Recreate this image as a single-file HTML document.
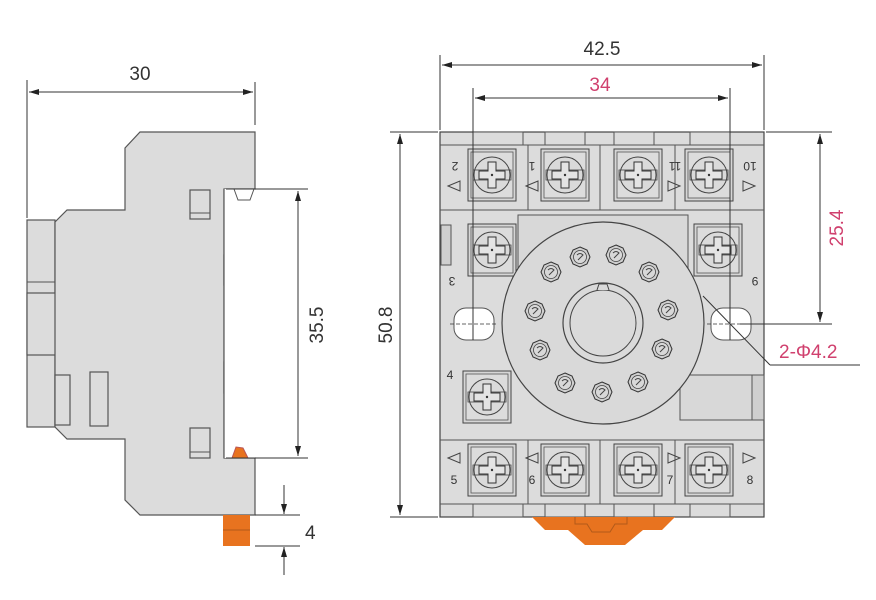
<!DOCTYPE html>
<html><head><meta charset="utf-8"><style>
html,body{margin:0;padding:0;background:#fff;}
svg{display:block;font-family:"Liberation Sans",Arial,sans-serif;}
</style></head><body>
<svg width="876" height="600" viewBox="0 0 876 600" xmlns="http://www.w3.org/2000/svg">
<defs>
<marker id="a" viewBox="0 0 10 6" refX="10" refY="3" markerWidth="10" markerHeight="6" orient="auto-start-reverse" markerUnits="userSpaceOnUse"><path d="M0,0 L10,3 L0,6 Z" fill="#222"/></marker>
<g id="term">
<rect x="-24" y="-26" width="48" height="52" fill="#d6d6d6" stroke="#444" stroke-width="1"/>
<rect x="-21" y="-23" width="42" height="46" fill="#dcdcdc" stroke="#555" stroke-width="0.8"/>
<circle r="18" fill="#dadada" stroke="#444" stroke-width="1"/>
<rect x="-19" y="-5" width="38" height="10" fill="none" stroke="#444" stroke-width="0.8"/>
<path d="M-4,-13 L4,-13 L4,-4 L13,-4 L13,4 L4,4 L4,13 L-4,13 L-4,4 L-13,4 L-13,-4 L-4,-4 Z" fill="#e4e4e4" stroke="#333" stroke-width="1"/>
<circle r="1.2" fill="#333"/>
</g>
<g id="pin">
<polygon points="0,-10 7,-7 10,0 7,7 0,10 -7,7 -10,0 -7,-7" fill="#cfcfcf" stroke="#333" stroke-width="1"/>
<circle r="6.5" fill="#d8d8d8" stroke="#444" stroke-width="0.8"/>
<path d="M-3,-2 Q0,-5 3,-2 Q0,1 -2,3" fill="none" stroke="#444" stroke-width="1"/>
</g>
</defs>

<!-- LEFT SIDE VIEW -->
<g stroke="#555" stroke-width="1.2" fill="#dcdcdc">
<rect x="27" y="220" width="28" height="207"/>
<rect x="27" y="293" width="41" height="62"/>
<path d="M125,148 L140,132 L255,132 L255,189 L224,189 L224,458 L255,458 L255,515 L140,515 L125,500 L125,439 L67,439 L55,427 L55,222 L67,210 L125,210 Z"/>
<rect x="190" y="190" width="20" height="29"/>
<rect x="190" y="428" width="20" height="30"/>
<rect x="224" y="255" width="26" height="30"/>
<rect x="224" y="362" width="26" height="31"/>
<rect x="55" y="375" width="15" height="50"/>
<rect x="90" y="372" width="18" height="54"/>
</g>
<line x1="27" y1="282" x2="55" y2="282" stroke="#555"/>
<line x1="190" y1="213" x2="210" y2="213" stroke="#555"/>
<line x1="190" y1="452" x2="210" y2="452" stroke="#555"/>
<rect x="224" y="189" width="31" height="269" fill="#fff" stroke="none"/>
<line x1="224" y1="189" x2="224" y2="458" stroke="#555" stroke-width="1.2"/>
<path d="M234,189 L238,200 L250,200 L254,189" fill="none" stroke="#555"/>
<path d="M232,458 L236,447 L243,448 L248,458 Z" fill="#e8731f" stroke="#b55"/>
<rect x="223" y="515" width="27" height="31" fill="#e8731f"/>
<line x1="223" y1="530" x2="250" y2="530" stroke="#b25a1a"/>

<g stroke="#333" stroke-width="1" fill="none">
<line x1="27" y1="80" x2="27" y2="218"/>
<line x1="255" y1="82" x2="255" y2="125"/>
<line x1="29" y1="92" x2="253" y2="92" marker-start="url(#a)" marker-end="url(#a)"/>
<line x1="226" y1="189" x2="308" y2="189"/>
<line x1="226" y1="458" x2="308" y2="458"/>
<line x1="298" y1="191" x2="298" y2="456" marker-start="url(#a)" marker-end="url(#a)"/>
<line x1="255" y1="515" x2="300" y2="515"/>
<line x1="255" y1="546" x2="300" y2="546"/>
<line x1="284" y1="485" x2="284" y2="514" marker-end="url(#a)"/>
<line x1="284" y1="575" x2="284" y2="547" marker-end="url(#a)"/>
</g>
<text x="140" y="80" font-size="19" fill="#333" text-anchor="middle">30</text>
<text x="0" y="0" font-size="19" fill="#333" text-anchor="middle" transform="translate(323,325) rotate(-90)">35.5</text>
<text x="305" y="539" font-size="19" fill="#333">4</text>

<!-- RIGHT FRONT VIEW -->
<rect x="440" y="132" width="324" height="385" fill="#dcdcdc" stroke="#444" stroke-width="1.2"/>
<g stroke="#555" fill="#dcdcdc" stroke-width="1">
<rect x="473" y="132" width="50" height="13"/><rect x="545" y="132" width="40" height="13"/><rect x="614" y="132" width="40" height="13"/><rect x="690" y="132" width="40" height="13"/>
<rect x="473" y="504" width="50" height="13"/><rect x="545" y="504" width="40" height="13"/><rect x="614" y="504" width="40" height="13"/><rect x="690" y="504" width="40" height="13"/>
<line x1="440" y1="145" x2="764" y2="145"/>
<line x1="440" y1="210" x2="764" y2="210"/>
<line x1="440" y1="440" x2="764" y2="440"/>
<line x1="440" y1="504" x2="764" y2="504"/>
<line x1="528" y1="145" x2="528" y2="210"/><line x1="600" y1="145" x2="600" y2="210"/><line x1="675" y1="145" x2="675" y2="210"/>
<line x1="528" y1="440" x2="528" y2="504"/><line x1="600" y1="440" x2="600" y2="504"/><line x1="675" y1="440" x2="675" y2="504"/>
<rect x="518" y="215" width="170" height="90" fill="#d8d8d8"/>
<rect x="680" y="375" width="72" height="45" fill="#d8d8d8"/>
<rect x="752" y="375" width="12" height="45" fill="#cfcfcf"/>
<rect x="441" y="225" width="10" height="40" fill="#cfcfcf"/>
</g>
<use href="#term" x="492" y="175"/><use href="#term" x="565" y="175"/><use href="#term" x="638" y="175"/><use href="#term" x="709" y="175"/>
<use href="#term" x="492" y="250"/><use href="#term" x="718" y="250"/>
<use href="#term" x="487" y="397"/>
<use href="#term" x="492" y="470"/><use href="#term" x="565" y="470"/><use href="#term" x="638" y="470"/><use href="#term" x="709" y="470"/>

<circle cx="603" cy="323" r="101" fill="#d9d9d9" stroke="#444" stroke-width="1.2"/>
<circle cx="603" cy="323" r="40" fill="#dadada" stroke="#444" stroke-width="1.2"/>
<circle cx="603" cy="323" r="33" fill="#dadada" stroke="#444" stroke-width="1"/>
<path d="M597,290 L599,284 L607,284 L609,290" fill="#dadada" stroke="#444"/>
<use href="#pin" x="580" y="257"/><use href="#pin" x="616" y="255"/><use href="#pin" x="649" y="272"/>
<use href="#pin" x="668" y="310"/><use href="#pin" x="662" y="349"/><use href="#pin" x="638" y="382"/>
<use href="#pin" x="602" y="392"/><use href="#pin" x="565" y="383"/><use href="#pin" x="540" y="350"/>
<use href="#pin" x="535" y="311"/><use href="#pin" x="551" y="272"/>

<rect x="454" y="308" width="40" height="32" rx="12" fill="#fff" stroke="#555"/>
<rect x="711" y="308" width="40" height="32" rx="12" fill="#fff" stroke="#555"/>
<g stroke="#333" stroke-dasharray="4,2" stroke-width="0.8">
<line x1="450" y1="324" x2="498" y2="324"/><line x1="707" y1="324" x2="755" y2="324"/>
</g>
<g font-size="12" fill="#333" text-anchor="middle">
<text x="455" y="170" transform="rotate(180 455 166)">2</text>
<text x="532" y="170" transform="rotate(180 532 166)">1</text>
<text x="675" y="170" transform="rotate(180 675 166)">11</text>
<text x="750" y="170" transform="rotate(180 750 166)">10</text>
<text x="452" y="285" transform="rotate(180 452 281)">3</text>
<text x="755" y="285" transform="rotate(180 755 281)">9</text>
<text x="450" y="379">4</text>
<text x="454" y="484">5</text><text x="532" y="484">6</text><text x="670" y="484">7</text><text x="750" y="484">8</text>
</g>
<g fill="none" stroke="#444">
<path d="M448,186 L460,181 L460,191 Z"/><path d="M526,186 L538,181 L538,191 Z"/><path d="M680,186 L668,181 L668,191 Z"/><path d="M755,186 L743,181 L743,191 Z"/>
<path d="M448,458 L460,453 L460,463 Z"/><path d="M526,458 L538,453 L538,463 Z"/><path d="M680,458 L668,453 L668,463 Z"/><path d="M755,458 L743,453 L743,463 Z"/>
</g>
<path d="M532,517 L675,517 L662,530 L643,530 L625,545 L585,545 L568,530 L545,530 Z" fill="#e8731f"/>
<path d="M575,517 L575,524 L587,524 L592,532 L610,532 L615,524 L627,524 L627,517" fill="none" stroke="#b25a1a"/>

<g stroke="#333" stroke-width="1" fill="none">
<line x1="440" y1="55" x2="440" y2="130"/><line x1="764" y1="55" x2="764" y2="130"/>
<line x1="442" y1="65" x2="762" y2="65" marker-start="url(#a)" marker-end="url(#a)"/>
<line x1="473" y1="88" x2="473" y2="340"/><line x1="730" y1="88" x2="730" y2="340"/>
<line x1="475" y1="98" x2="728" y2="98" marker-start="url(#a)" marker-end="url(#a)"/>
<line x1="390" y1="132" x2="438" y2="132"/><line x1="390" y1="517" x2="438" y2="517"/>
<line x1="400" y1="134" x2="400" y2="515" marker-start="url(#a)" marker-end="url(#a)"/>
<line x1="766" y1="132" x2="832" y2="132"/><line x1="740" y1="324" x2="832" y2="324"/>
<line x1="820" y1="134" x2="820" y2="322" marker-start="url(#a)" marker-end="url(#a)"/>
<line x1="703" y1="296" x2="770" y2="365"/>
<line x1="770" y1="365" x2="860" y2="365"/>
</g>
<text x="602" y="55" font-size="19" fill="#333" text-anchor="middle">42.5</text>
<text x="600" y="91" font-size="19" fill="#d0406e" text-anchor="middle">34</text>
<text font-size="19" fill="#333" text-anchor="middle" transform="translate(392,325) rotate(-90)">50.8</text>
<text font-size="19" fill="#d0406e" text-anchor="middle" transform="translate(843,228) rotate(-90)">25.4</text>
<text x="779" y="358" font-size="19" fill="#d0406e">2-Φ4.2</text>
</svg>
</body></html>
